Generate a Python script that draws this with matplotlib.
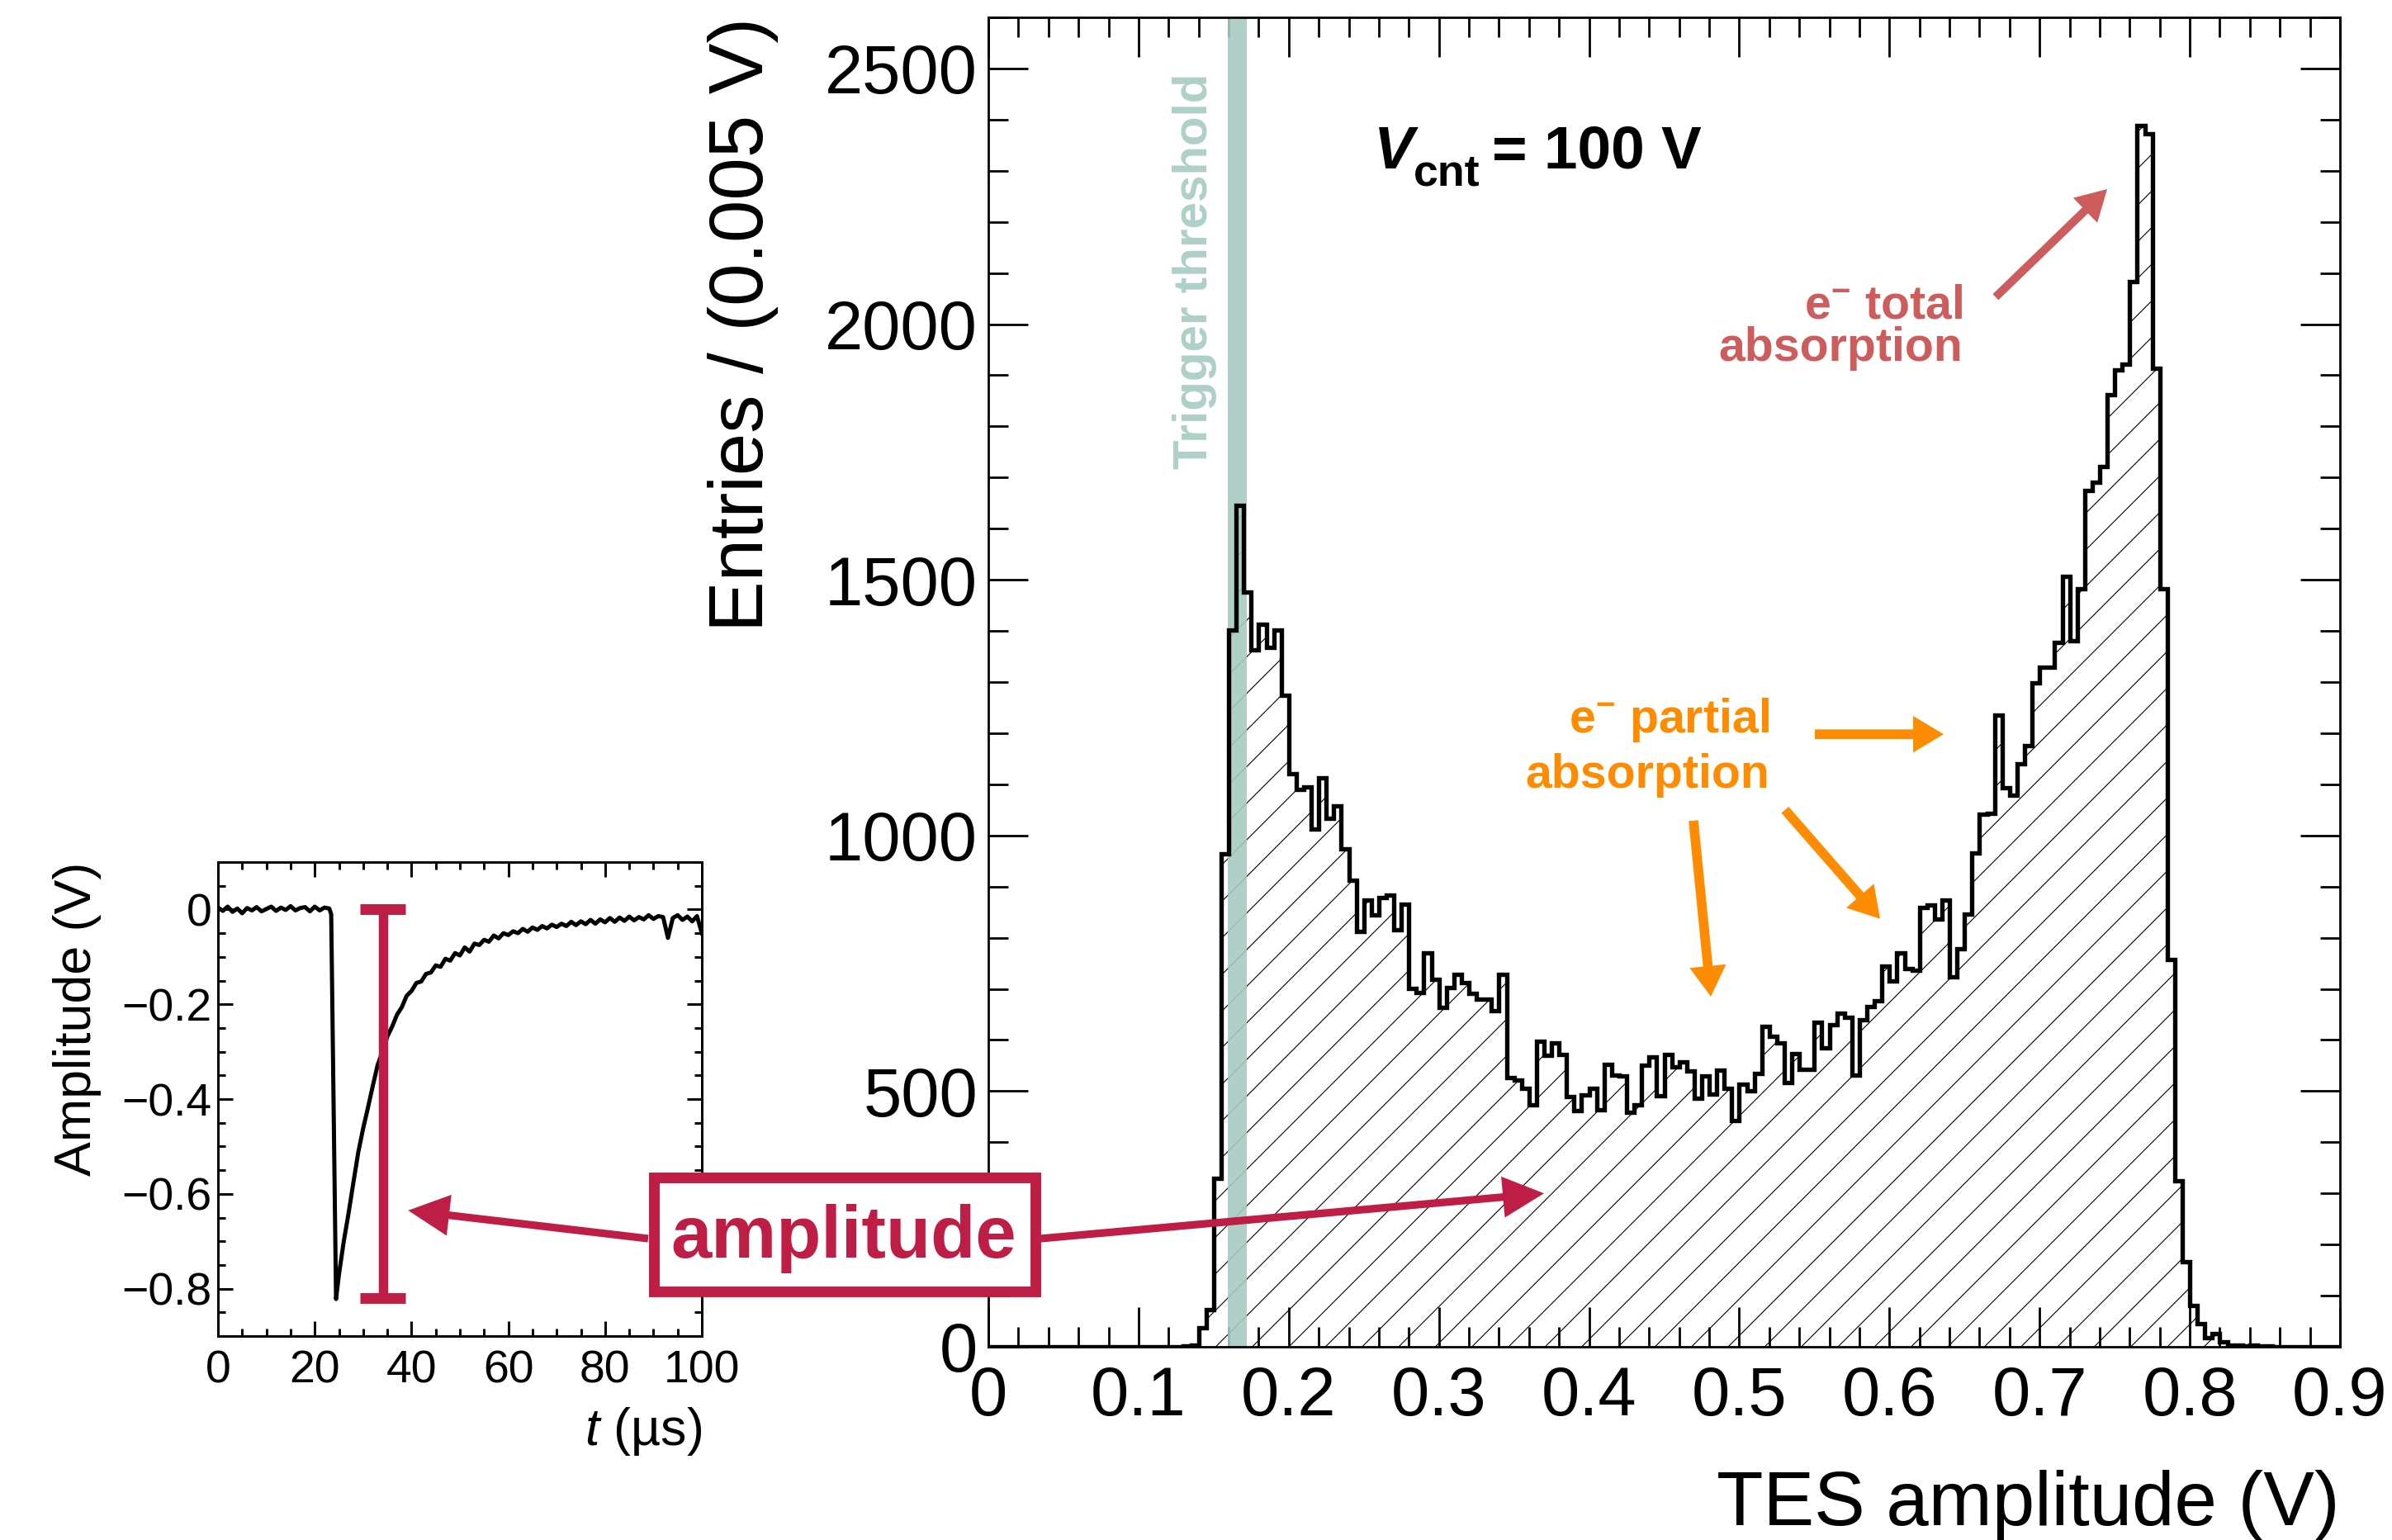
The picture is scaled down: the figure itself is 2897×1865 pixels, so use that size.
import numpy as np
import matplotlib
matplotlib.use("Agg")
import matplotlib.pyplot as plt
from matplotlib.patches import Rectangle
from matplotlib.ticker import MultipleLocator, FuncFormatter

# Vars
W, H, DPI = 2897, 1865, 133

CRIMSON = "#BE1E46"
ORANGE = "#FF8C00"
TOTAL_RED = "#CD5C5C"
TEAL = "#A5CBC0"

# TES amplitude spectrum, 0.005 V bins from 0 to 0.9 V
bin_width = 0.005
entries = [
    0, 0, 0, 0, 0, 0, 0, 0, 0, 0,
    0, 0, 0, 0, 0, 0, 0, 0, 0, 0,
    0, 0, 0, 0, 0, 0, 2, 4, 37, 72,
    330, 964, 1401, 1646, 1476, 1363, 1413, 1368, 1402, 1274,
    1120, 1090, 1095, 1012, 1112, 1034, 1057, 973, 912, 812,
    873, 845, 879, 884, 815, 865, 701, 693, 771, 719,
    664, 703, 729, 712, 691, 680, 680, 658, 728, 527,
    521, 505, 473, 598, 570, 594, 571, 489, 462, 493,
    505, 464, 552, 532, 529, 459, 473, 551, 567, 491,
    572, 548, 557, 540, 486, 529, 494, 541, 505, 443,
    513, 500, 535, 627, 607, 595, 516, 573, 543, 543,
    635, 585, 630, 652, 645, 531, 639, 666, 676, 745,
    716, 770, 740, 736, 859, 864, 836, 874, 723, 778,
    847, 965, 1041, 1044, 1236, 1094, 1078, 1140, 1175, 1298,
    1329, 1329, 1377, 1506, 1381, 1482, 1674, 1690, 1722, 1862,
    1910, 1921, 2084, 2389, 2373, 1913, 1482, 758, 324, 167,
    80, 45, 18, 26, 10, 4, 3, 2, 3, 1,
    1, 0, 0, 0, 0, 0, 0, 0, 0, 0,
]

# trigger threshold band (V)
trigger_lo, trigger_hi = 0.1597, 0.1723

# example pulse shown in the inset
pulse_t = [
    0, 1, 2, 3, 4, 5, 6, 7, 8, 9, 10, 11, 12, 13, 14, 15, 16, 17, 18, 19,
    20, 21, 22, 23, 23.4, 24.4,
    25, 26, 27, 28, 29, 30, 31, 32, 33, 34, 35, 36, 37, 38, 39, 40, 41, 42,
    43, 44, 45, 46, 47, 48, 49, 50, 51, 52, 53, 54, 55, 56, 57, 58, 59, 60,
    61, 62, 63, 64, 65, 66, 67, 68, 69, 70, 71, 72, 73, 74, 75, 76, 77, 78,
    79, 80, 81, 82, 83, 84, 85, 86, 87, 88, 89, 90, 91, 92, 93, 94, 95, 96,
    97, 98, 99, 100,
]
pulse_amp = [
    0.004, -0.003, 0.006, -0.005, 0.002, -0.008, 0.003, -0.002, 0.005, -0.004,
    0.001, 0.006, -0.003, 0.004, -0.001, 0.007, -0.002, 0.003, 0.005, -0.004,
    0.006, -0.002, 0.004, 0.002, -0.010, -0.822,
    -0.770, -0.700, -0.640, -0.575, -0.512, -0.462, -0.418, -0.372, -0.328, -0.300,
    -0.268, -0.247, -0.222, -0.206, -0.182, -0.172, -0.155, -0.152, -0.136, -0.133,
    -0.118, -0.121, -0.104, -0.108, -0.092, -0.097, -0.080, -0.089, -0.072, -0.075,
    -0.064, -0.068, -0.055, -0.061, -0.050, -0.054, -0.046, -0.050, -0.041, -0.047,
    -0.038, -0.043, -0.035, -0.040, -0.032, -0.037, -0.030, -0.035, -0.026, -0.033,
    -0.025, -0.031, -0.022, -0.030, -0.021, -0.027, -0.018, -0.026, -0.017, -0.024,
    -0.015, -0.023, -0.016, -0.021, -0.012, -0.020, -0.014, -0.016, -0.060, -0.018,
    -0.012, -0.022, -0.015, -0.025, -0.014, -0.050,
]
# amplitude marker in the inset
bar_t = 34.05
bar_half = 4.65
bar_top, bar_bottom = 0.0, -0.82


def fig_px(x, y):
    # full-size pixel position -> figure fraction
    return x / W, 1 - y / H


def root_ticks(ax, major_len, minor_len, width, size, xpad, ypad):
    ax.tick_params(which="both", direction="in", top=True, right=True,
                   width=width, labelsize=size)
    ax.tick_params(which="major", length=major_len)
    ax.tick_params(which="minor", length=minor_len)
    ax.tick_params(axis="x", which="both", pad=xpad)
    ax.tick_params(axis="y", which="both", pad=ypad)
    for s in ax.spines.values():
        s.set_linewidth(width)


def arrow(ax, tail, tip, color, tail_w, head_w, head_l, tail_coords="data"):
    style = f"simple,tail_width={tail_w},head_width={head_w},head_length={head_l}"
    ax.annotate("", xy=tip, xycoords="data", xytext=tail, textcoords=tail_coords,
                arrowprops=dict(arrowstyle=style, color=color, lw=0,
                                shrinkA=0, shrinkB=0, mutation_scale=1),
                zorder=6)


def plot_spectrum(fig):
    ax = fig.add_axes([0.41319, 0.12547, 0.56506, 0.86327])
    edges = np.arange(len(entries) + 1) * bin_width

    ax.stairs(entries, edges, fill=True, facecolor="white", edgecolor="black",
              hatch="/", linewidth=0, zorder=1)
    ax.axvspan(trigger_lo, trigger_hi, color=TEAL, alpha=0.9, lw=0, zorder=2)
    ax.stairs(entries, edges, color="black", linewidth=2.9, zorder=3)

    ax.set_xlim(0, 0.9)
    ax.set_ylim(0, 2600)
    ax.xaxis.set_major_locator(MultipleLocator(0.1))
    ax.xaxis.set_minor_locator(MultipleLocator(0.02))
    ax.yaxis.set_major_locator(MultipleLocator(500))
    ax.yaxis.set_minor_locator(MultipleLocator(100))
    ax.xaxis.set_major_formatter(FuncFormatter(lambda v, p: "0" if abs(v) < 1e-9 else f"{v:.1f}"))
    root_ticks(ax, 26, 13, 1.5, 45, 12, 7)

    ax.set_xlabel("TES amplitude (V)", fontsize=50, loc="right")
    ax.xaxis.set_label_coords(1.0, -0.0926)
    ax.set_ylabel("Entries / (0.005 V)", fontsize=50, loc="top")
    ax.yaxis.set_label_coords(-0.1553, 1.0)

    ax.text(0.1374, 2490, "Trigger threshold", rotation=90, color="#AED0C8",
            fontsize=31.5, fontweight="bold", ha="center", va="top")

    # V_cnt = 100 V
    ax.text(0.2565, 2305, "V", fontsize=39.5, fontweight="bold", fontstyle="italic", va="baseline")
    ax.text(0.2831, 2271, "cnt", fontsize=29, fontweight="bold", va="baseline")
    ax.text(0.3354, 2305, "= 100 V", fontsize=39.5, fontweight="bold", va="baseline")

    # e- total absorption
    ax.text(0.6487, 2012, r"$\mathbf{e^{-}}$ total", color=TOTAL_RED, fontsize=31,
            fontweight="bold", ha="right", va="baseline")
    ax.text(0.6487, 1928, "absorption", color=TOTAL_RED, fontsize=31,
            fontweight="bold", ha="right", va="baseline")
    arrow(ax, (0.6707, 2053), (0.7450, 2264), TOTAL_RED, 5.4, 22.7, 20)

    # e- partial absorption
    ax.text(0.5201, 1201, r"$\mathbf{e^{-}}$ partial", color=ORANGE, fontsize=31,
            fontweight="bold", ha="right", va="baseline")
    ax.text(0.5201, 1093, "absorption", color=ORANGE, fontsize=31,
            fontweight="bold", ha="right", va="baseline")
    arrow(ax, (0.5503, 1198), (0.6361, 1198), ORANGE, 6.3, 24, 20)
    arrow(ax, (0.5305, 1050), (0.5938, 837), ORANGE, 6.3, 24, 20)
    arrow(ax, (0.4695, 1029), (0.4811, 685), ORANGE, 6.3, 24, 20)

    return ax


def plot_pulse(fig):
    ax = fig.add_axes([0.09113, 0.13244, 0.20228, 0.30777])
    ax.plot(pulse_t, pulse_amp, color="black", lw=2.7, zorder=3)

    # amplitude marker
    ax.plot([bar_t, bar_t], [bar_top, bar_bottom], color=CRIMSON, lw=6.2,
            solid_capstyle="butt", zorder=4)
    for yv in (bar_top, bar_bottom):
        ax.plot([bar_t - bar_half, bar_t + bar_half], [yv, yv], color=CRIMSON,
                lw=7, solid_capstyle="butt", zorder=4)

    ax.set_xlim(0, 100)
    ax.set_ylim(-0.9, 0.1)
    ax.xaxis.set_major_locator(MultipleLocator(20))
    ax.xaxis.set_minor_locator(MultipleLocator(5))
    ax.yaxis.set_major_locator(MultipleLocator(0.2))
    ax.yaxis.set_minor_locator(MultipleLocator(0.05))
    ax.yaxis.set_major_formatter(FuncFormatter(
        lambda v, p: "0" if abs(v) < 1e-9 else f"{v:.1f}".replace("-", "\u2212")))
    root_ticks(ax, 10, 5, 1.6, 30, 9, 4)

    ax.set_xlabel(r"$t$ (µs)", fontsize=34, loc="right")
    ax.xaxis.set_label_coords(1.0, -0.1466)
    ax.set_ylabel("Amplitude (V)", fontsize=34, loc="top")
    ax.yaxis.set_label_coords(-0.2406, 1.0)
    return ax


def plot_amplitude_box(fig, ax_main, ax_in):
    x0, y0 = fig_px(791.5, 1563.5)
    x1, y1 = fig_px(1253.5, 1425.5)
    fig.add_artist(Rectangle((x0, y0), x1 - x0, y1 - y0, transform=fig.transFigure,
                             facecolor="white", edgecolor=CRIMSON, lw=7, zorder=10))
    fig.text(*fig_px(1022, 1500), "amplitude", color=CRIMSON, fontsize=48,
             fontweight="bold", ha="center", va="center", zorder=11)

    arrow(ax_in, fig_px(785, 1500), (39.3, -0.635), CRIMSON, 5, 27, 27,
          tail_coords="figure fraction")
    arrow(ax_main, fig_px(1260, 1500), (0.370, 300), CRIMSON, 5, 27, 27,
          tail_coords="figure fraction")


if __name__ == "__main__":
    plt.rcParams["font.family"] = "Liberation Sans"
    plt.rcParams["mathtext.fontset"] = "custom"
    plt.rcParams["mathtext.rm"] = "Liberation Sans"
    plt.rcParams["mathtext.it"] = "Liberation Sans:italic"
    plt.rcParams["mathtext.bf"] = "Liberation Sans:bold"
    plt.rcParams["hatch.linewidth"] = 0.6

    fig = plt.figure(figsize=(W / DPI, H / DPI), dpi=DPI)
    ax_main = plot_spectrum(fig)
    ax_in = plot_pulse(fig)
    plot_amplitude_box(fig, ax_main, ax_in)

    fig.savefig("out.png", dpi=DPI)
